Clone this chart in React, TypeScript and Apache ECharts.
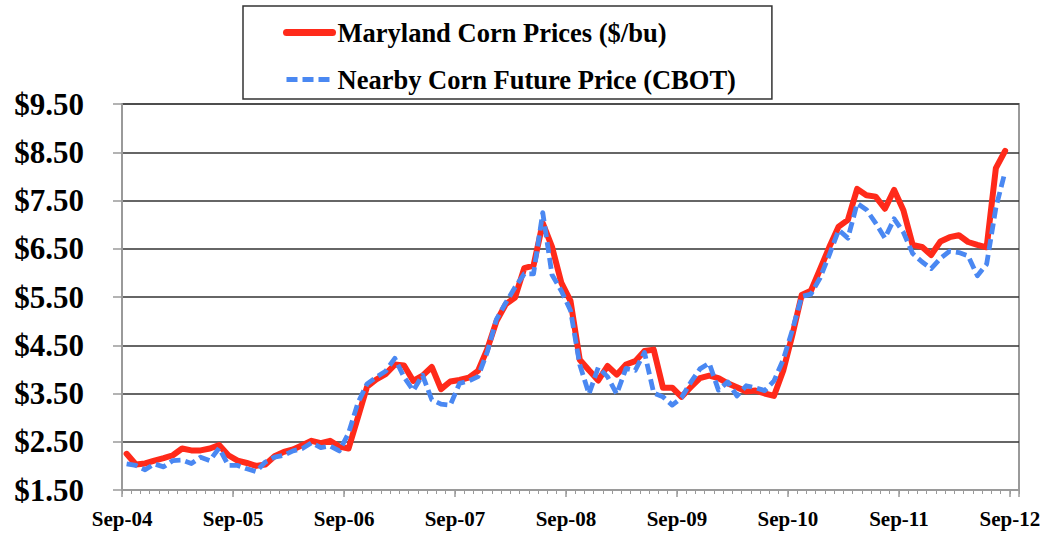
import React, { useEffect, useRef } from 'react';
import * as echarts from 'echarts';

const MONTHS = ['Jan', 'Feb', 'Mar', 'Apr', 'May', 'Jun', 'Jul', 'Aug', 'Sep', 'Oct', 'Nov', 'Dec'];
const START_YEAR = 2004;
const START_MONTH = 8; // September
const MONTH_COUNT = 97; // Sep-04 .. Sep-12

const categories: string[] = Array.from({ length: MONTH_COUNT }, (_, i) => {
  const m = (START_MONTH + i) % 12;
  const y = START_YEAR + Math.floor((START_MONTH + i) / 12);
  return MONTHS[m] + '-' + String(y % 100).padStart(2, '0');
});

const seriesNames = ['Maryland Corn Prices ($/bu)', 'Nearby Corn Future Price (CBOT)'];

// Sep-04 .. Aug-12, monthly
const marylandCorn = [
  2.25, 2.03, 2.05, 2.11, 2.16, 2.22, 2.36, 2.32, 2.32, 2.36, 2.43, 2.22,
  2.11, 2.06, 2.00, 2.03, 2.20, 2.29, 2.34, 2.43, 2.52, 2.47, 2.52, 2.40,
  2.36, 3.00, 3.64, 3.79, 3.90, 4.10, 4.08, 3.76, 3.87, 4.05, 3.59, 3.75,
  3.78, 3.83, 3.97, 4.42, 5.00, 5.35, 5.49, 6.10, 6.15, 7.03, 6.54, 5.80,
  5.42, 4.20, 3.98, 3.77, 4.07, 3.89, 4.10, 4.17, 4.38, 4.41, 3.62, 3.62,
  3.43, 3.63, 3.82, 3.87, 3.82, 3.71, 3.63, 3.54, 3.56, 3.50, 3.45, 3.97,
  4.72, 5.54, 5.63, 6.08, 6.54, 6.96, 7.10, 7.74, 7.61, 7.58, 7.33, 7.72,
  7.30, 6.58, 6.54, 6.37, 6.65, 6.74, 6.78, 6.64, 6.58, 6.53, 8.17, 8.53,
];

const cbotFutures = [
  2.04, 2.01, 1.92, 2.04, 1.98, 2.11, 2.12, 2.05, 2.18, 2.11, 2.37, 2.01,
  2.01, 1.94, 1.88, 2.08, 2.18, 2.22, 2.31, 2.36, 2.48, 2.38, 2.41, 2.31,
  2.68, 3.30, 3.70, 3.84, 3.96, 4.23, 3.84, 3.56, 3.88, 3.37, 3.28, 3.26,
  3.71, 3.76, 3.85, 4.36, 5.04, 5.38, 5.70, 5.98, 5.98, 7.25, 5.96, 5.63,
  5.22, 4.10, 3.49, 4.04, 3.85, 3.49, 4.02, 3.98, 4.35, 3.51, 3.43, 3.26,
  3.41, 3.73, 4.01, 4.13, 3.57, 3.74, 3.45, 3.66, 3.62, 3.56, 3.76, 4.20,
  4.82, 5.51, 5.56, 5.90, 6.38, 6.89, 6.72, 7.44, 7.31, 7.03, 6.72, 7.12,
  6.84, 6.40, 6.23, 6.09, 6.30, 6.45, 6.42, 6.35, 5.94, 6.18, 7.35, 8.10,
];

const Y_MIN = 1.5;
const Y_MAX = 9.5;
const Y_STEP = 1;

const FONT = "'Liberation Serif', 'Times New Roman', serif";

export default function App() {
  const ref = useRef<HTMLDivElement>(null);

  useEffect(() => {
    if (!ref.current) return;
    const chart = echarts.init(ref.current, undefined, { renderer: 'svg' });
    const gridBox = { left: 122, right: 34, top: 104, bottom: 45 };
    const splitColors = ['#9a9a9a', '#333', '#333', '#333', '#333', '#333', '#333', '#333', '#333'];
    chart.setOption({
      animation: false,
      grid: [
        { ...gridBox, show: true, borderColor: '#9a9a9a', borderWidth: 2, backgroundColor: 'transparent' },
        { ...gridBox, show: false },
      ],
      legend: {
        orient: 'vertical',
        left: 243,
        top: 6,
        padding: [13, 36, 6, 40],
        itemGap: 20,
        itemWidth: 46,
        itemHeight: 14,
        borderColor: '#333',
        borderWidth: 1.5,
        backgroundColor: '#fff',
        itemStyle: { opacity: 0 },
        data: [
          { name: seriesNames[0], lineStyle: { width: 7 } },
          { name: seriesNames[1], lineStyle: { width: 5 } },
        ],
        textStyle: { fontFamily: FONT, fontWeight: 'bold', fontSize: 26.5, color: '#000' },
      },
      xAxis: [
        {
          type: 'category',
          gridIndex: 0,
          data: categories,
          boundaryGap: true,
          axisLine: { show: true, lineStyle: { color: '#9a9a9a', width: 2 } },
          axisTick: { show: true, interval: 0, length: 4, lineStyle: { color: '#9a9a9a', width: 1 } },
          axisLabel: {
            interval: 11,
            margin: 18,
            padding: [0, 9, 0, 0],
            fontFamily: FONT,
            fontWeight: 'bold',
            fontSize: 21,
            color: '#000',
          },
          splitLine: { show: false },
        },
        {
          type: 'category',
          gridIndex: 1,
          data: categories,
          boundaryGap: true,
          axisLine: { show: false },
          axisTick: { show: true, interval: 11, length: 7, lineStyle: { color: '#9a9a9a', width: 1.5 } },
          axisLabel: { show: false },
          splitLine: { show: false },
        },
      ],
      yAxis: [
        {
          type: 'value',
          gridIndex: 0,
          min: Y_MIN,
          max: Y_MAX,
          interval: Y_STEP,
          axisLine: { show: true, lineStyle: { color: '#9a9a9a', width: 2 } },
          axisTick: { show: true, length: 9, lineStyle: { color: '#9a9a9a', width: 1.5 } },
          axisLabel: {
            margin: 38,
            fontFamily: FONT,
            fontWeight: 'bold',
            fontSize: 31,
            color: '#000',
            formatter: (v: number) => '$' + v.toFixed(2),
          },
          splitLine: { show: true, lineStyle: { color: splitColors, width: 1.6 } },
        },
        { type: 'value', gridIndex: 1, show: false, min: 0, max: 1 },
      ],
      series: [
        {
          name: seriesNames[0],
          type: 'line',
          xAxisIndex: 0,
          yAxisIndex: 0,
          data: marylandCorn,
          symbol: 'none',
          lineStyle: { color: '#FF2A1A', width: 6, cap: 'round', join: 'round' },
          itemStyle: { color: '#FF2A1A' },
        },
        {
          name: seriesNames[1],
          type: 'line',
          xAxisIndex: 0,
          yAxisIndex: 0,
          data: cbotFutures,
          symbol: 'none',
          lineStyle: { color: '#4A88F2', width: 4.8, type: [11, 5], join: 'round' },
          itemStyle: { color: '#4A88F2' },
        },
      ],
    });
    return () => chart.dispose();
  }, []);

  return (
    <div
      ref={ref}
      style={{ position: 'fixed', left: 0, top: 0, width: 1053, height: 535, background: '#fff' }}
    />
  );
}
